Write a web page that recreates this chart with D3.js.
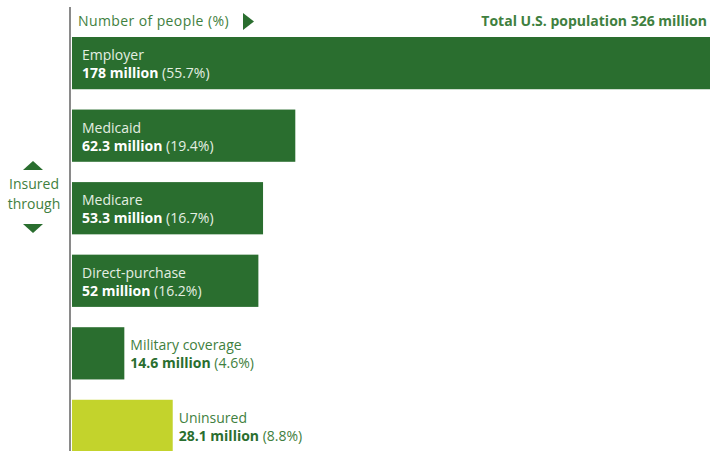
<!DOCTYPE html>
<html>
<head>
<meta charset="utf-8">
<script src="https://cdn.jsdelivr.net/npm/d3@7"></script>
<style>
  body { margin: 0; background: #fff; }
  text { font-family: "Open Sans", Roboto, sans-serif; }
</style>
</head>
<body>
<svg id="chart"></svg>
<script>
// data
let categories = ["Employer", "Medicaid", "Medicare", "Direct-purchase", "Military coverage", "Uninsured"]
let millions = [178, 62.3, 53.3, 52, 14.6, 28.1]
let millionLabels = ["178 million", "62.3 million", "53.3 million", "52 million", "14.6 million", "28.1 million"]
let percentLabels = ["(55.7%)", "(19.4%)", "(16.7%)", "(16.2%)", "(4.6%)", "(8.8%)"]
let insured = [true, true, true, true, true, false]

let w = 710
let h = 451
let dark_green = "#2a6e2f"
let light_green = "#c3d32c"
let text_green = "#3f8040"
let fs = 14

let svg = d3.select("#chart").attr("width", w).attr("height", h)

let x = d3.scaleLinear().domain([0, 178]).range([72, 710])
let y = d3.scaleBand().domain(categories).range([37, 452]).paddingInner(0.28)

// bars
svg.selectAll("rect.bar")
   .data(categories)
   .enter()
   .append("rect")
   .attr("class", "bar")
   .attr("x", x(0))
   .attr("y", d => y(d))
   .attr("width", (d, i) => x(millions[i]) - x(0))
   .attr("height", y.bandwidth())
   .attr("fill", (d, i) => insured[i] ? dark_green : light_green)

// labels: inside if the bar is wide enough, outside otherwise
categories.forEach(function(c, i){
  let barW = x(millions[i]) - x(0)
  let inside = barW > 130
  let lx = inside ? x(0) + 10 : x(millions[i]) + 6
  let fillName = inside ? "#e4efe2" : text_green
  let fillVal = inside ? "#ffffff" : dark_green

  svg.append("text")
     .attr("x", lx)
     .attr("y", y(c) + 23)
     .attr("font-size", fs)
     .attr("fill", fillName)
     .text(c)

  let t = svg.append("text")
             .attr("x", lx)
             .attr("y", y(c) + 41)
             .attr("font-size", fs)
  t.append("tspan")
   .attr("font-weight", "bold")
   .attr("fill", fillVal)
   .text(millionLabels[i] + " ")
  t.append("tspan")
   .attr("fill", fillName)
   .text(percentLabels[i])
})

// axis line
svg.append("line")
   .attr("x1", 70).attr("x2", 70)
   .attr("y1", 7).attr("y2", h)
   .attr("stroke", "#8a8a8a")
   .attr("stroke-width", 2)

// header
svg.append("text")
   .attr("x", 78)
   .attr("y", 26)
   .attr("font-size", fs)
   .attr("letter-spacing", 0.4)
   .attr("fill", text_green)
   .text("Number of people (%)")

svg.append("path")
   .attr("d", "M243,13 L254,21.5 L243,30 Z")
   .attr("fill", dark_green)

svg.append("text")
   .attr("x", 707)
   .attr("y", 26)
   .attr("text-anchor", "end")
   .attr("font-size", fs)
   .attr("font-weight", "bold")
   .attr("fill", text_green)
   .text("Total U.S. population 326 million")

// "Insured through" note
svg.append("path")
   .attr("d", "M23,170 L33,161 L43,170 Z")
   .attr("fill", dark_green)
svg.append("path")
   .attr("d", "M23,224 L33,233 L43,224 Z")
   .attr("fill", dark_green)

svg.append("text")
   .attr("x", 34)
   .attr("y", 189)
   .attr("text-anchor", "middle")
   .attr("font-size", fs)
   .attr("fill", text_green)
   .text("Insured")
svg.append("text")
   .attr("x", 34)
   .attr("y", 209)
   .attr("text-anchor", "middle")
   .attr("font-size", fs)
   .attr("fill", text_green)
   .text("through")
</script>
</body>
</html>
